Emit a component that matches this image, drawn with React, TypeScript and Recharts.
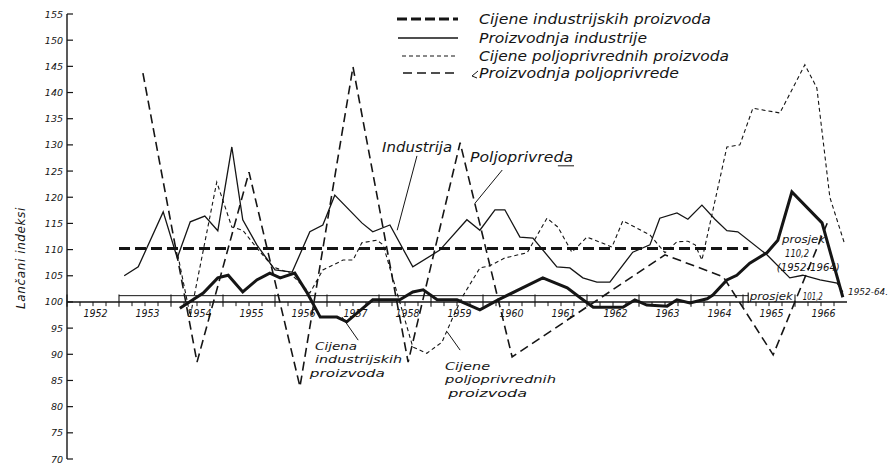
import React from "react";
import { LineChart, Line, XAxis, YAxis, ReferenceLine, ReferenceDot } from "recharts";

// tick labels
const years = [1952, 1953, 1954, 1955, 1956, 1957, 1958, 1959, 1960, 1961, 1962, 1963, 1964, 1965, 1966];
const yTicks = [70, 75, 80, 85, 90, 95, 100, 105, 110, 115, 120, 125, 130, 135, 140, 145, 150, 155];

// series, [godina, lancani indeks]
const proizvodnjaIndustrije: [number, number][] = [
  [1953.1, 105.0], [1953.37, 106.7], [1953.85, 117.2], [1954.12, 108.4], [1954.37, 115.3],
  [1954.65, 116.4], [1954.9, 113.6], [1955.17, 129.6], [1955.38, 115.7], [1955.65, 110.9],
  [1956.0, 106.1], [1956.33, 105.7], [1956.67, 113.4], [1956.92, 114.7], [1957.15, 120.4],
  [1957.67, 115.1], [1957.88, 113.4], [1958.21, 114.7], [1958.65, 106.7], [1959.17, 109.9],
  [1959.69, 115.7], [1959.94, 113.7], [1960.23, 117.6], [1960.42, 117.6], [1960.71, 112.4],
  [1960.96, 112.2], [1961.42, 106.7], [1961.67, 106.5], [1961.92, 104.6], [1962.19, 103.8],
  [1962.44, 103.8], [1962.88, 109.5], [1963.21, 110.9], [1963.4, 116.0], [1963.73, 117.0],
  [1963.94, 115.8], [1964.21, 118.5], [1964.46, 115.8], [1964.69, 113.6], [1964.9, 113.4],
  [1965.46, 109.0], [1965.9, 104.6], [1966.15, 105.1], [1966.48, 104.2], [1966.81, 103.6],
  [1966.92, 101.9],
];

const cijeneIndustrijskih: [number, number][] = [
  [1954.17, 98.8], [1954.62, 101.7], [1954.9, 104.6], [1955.1, 105.1], [1955.38, 101.9],
  [1955.65, 104.2], [1955.9, 105.5], [1956.1, 104.6], [1956.38, 105.5], [1956.62, 101.7],
  [1956.87, 97.1], [1957.19, 97.1], [1957.38, 96.2], [1957.88, 100.4], [1958.4, 100.4],
  [1958.65, 101.9], [1958.85, 102.3], [1959.12, 100.4], [1959.5, 100.4], [1959.94, 98.5],
  [1960.29, 100.4], [1961.15, 104.6], [1961.62, 102.7], [1961.87, 100.8], [1962.12, 99.0],
  [1962.69, 99.0], [1962.92, 100.4], [1963.15, 99.4], [1963.54, 99.2], [1963.73, 100.4],
  [1963.98, 99.8], [1964.31, 100.6], [1964.42, 101.3], [1964.69, 104.2], [1964.88, 105.1],
  [1965.13, 107.4], [1965.46, 109.4], [1965.67, 111.8], [1965.94, 121.0], [1966.52, 115.1],
  [1966.92, 100.9],
];

const cijenePoljoprivrednih: [number, number][] = [
  [1954.13, 109.0], [1954.37, 97.3], [1954.88, 122.9], [1955.17, 114.3], [1955.38, 113.7],
  [1955.65, 110.3], [1955.96, 106.7], [1956.29, 105.5], [1956.67, 101.7], [1956.92, 106.1],
  [1957.31, 108.0], [1957.5, 108.0], [1957.67, 111.3], [1957.96, 111.8], [1958.08, 110.9],
  [1958.65, 91.4], [1958.92, 90.2], [1959.21, 92.3], [1959.4, 96.6], [1959.6, 100.9],
  [1959.94, 106.5], [1960.13, 106.9], [1960.42, 108.4], [1960.85, 109.4], [1961.23, 116.0],
  [1961.44, 114.3], [1961.71, 109.5], [1962.0, 112.4], [1962.48, 110.5], [1962.69, 115.5],
  [1963.21, 112.8], [1963.5, 109.4], [1963.73, 111.5], [1963.94, 111.6], [1964.08, 110.9],
  [1964.21, 108.0], [1964.69, 129.6], [1964.94, 130.0], [1965.19, 137.0], [1965.71, 136.1],
  [1966.19, 145.3], [1966.42, 140.9], [1966.67, 120.0], [1966.96, 110.9],
];

const proizvodnjaPoljoprivrede: [number, number][] = [
  [1953.46, 143.7], [1954.5, 88.5], [1955.5, 124.8], [1956.48, 83.8], [1957.5, 144.9],
  [1958.56, 88.5], [1959.56, 130.4], [1960.56, 89.5], [1963.5, 109.0], [1964.62, 104.8],
  [1965.58, 89.9], [1966.63, 115.3],
];

// prosjeci 1952-1964
const prosjekIndustrija = 110.2;
const prosjekCijene = 101.2;

const rows = (pts: [number, number][]) => pts.map(([x, v]) => ({ x, v }));

const W = 890;
const H = 463;
const INK = "#151515";
const FONT = "'DejaVu Sans', 'Liberation Sans', sans-serif";

const YTick = (props: any) => {
  const { x, y, payload } = props;
  return (
    <g>
      <line x1={x} x2={x + 6} y1={y} y2={y} stroke={INK} strokeWidth={1.2} />
      <text x={x - 4} y={y + 3.5} textAnchor="end" fontSize={9.5} fontStyle="italic" fontFamily={FONT} fill={INK}>
        {payload.value}
      </text>
    </g>
  );
};

// text placed at data coordinates
const note = (key: string, x: number, y: number, text: string, size: number, len?: number, anchor = "start") => (
  <ReferenceDot
    key={key}
    x={x}
    y={y}
    r={0}
    ifOverflow="visible"
    shape={(p: any) => (
      <text
        x={p.cx}
        y={p.cy}
        fontSize={size}
        fontStyle="italic"
        fontFamily={FONT}
        fill={INK}
        textAnchor={anchor}
        textLength={len}
        lengthAdjust={len ? "spacingAndGlyphs" : undefined}
      >
        {text}
      </text>
    )}
  />
);

const seg = (key: string, x1: number, y1: number, x2: number, y2: number, w = 1) => (
  <ReferenceLine
    key={key}
    segment={[{ x: x1, y: y1 }, { x: x2, y: y2 }]}
    stroke={INK}
    strokeWidth={w}
    ifOverflow="visible"
  />
);

const legendRows = [
  { y: 19, text: "Cijene industrijskih proizvoda", x0: 397, len: 232, w: 3, dash: "10 4" },
  { y: 38, text: "Proizvodnja industrije", x0: 398, len: 168, w: 1.4, dash: undefined },
  { y: 56, text: "Cijene poljoprivrednih proizvoda", x0: 402, len: 250, w: 1.1, dash: "4 3" },
  { y: 73, text: "Proizvodnja poljoprivrede", x0: 403, len: 200, w: 1.6, dash: "9 5" },
];

export default function App() {
  const ticks: React.ReactNode[] = [];
  years.forEach((yr) => {
    ticks.push(seg(`t${yr}`, yr, 101.4, yr, 99.1, 1.1));
    [0.25, 0.5, 0.75].forEach((q) => ticks.push(seg(`t${yr}${q}`, yr + q, 100, yr + q, 99.2, 1)));
  });

  return (
    <div style={{ position: "absolute", left: 0, top: 0, width: W, height: H, background: "#fff" }}>
      <LineChart width={W} height={H} margin={{ top: 14, right: 43, bottom: 4, left: 0 }}>
        <XAxis type="number" dataKey="x" domain={[1952, 1967]} hide allowDataOverflow />
        <YAxis
          type="number"
          domain={[70, 155]}
          ticks={yTicks}
          interval={0}
          width={67}
          tickSize={0}
          tickMargin={0}
          tickLine={false}
          axisLine={{ stroke: INK, strokeWidth: 1.4 }}
          tick={<YTick />}
          allowDataOverflow
        />

        <ReferenceLine y={100} stroke={INK} strokeWidth={1.4} />
        {seg("p101", 1953, prosjekCijene, 1965.1, prosjekCijene, 1)}
        {seg("p101end", 1965.1, 99.8, 1965.1, 101.8, 1.2)}
        <ReferenceLine
          segment={[{ x: 1953, y: prosjekIndustrija }, { x: 1965.1, y: prosjekIndustrija }]}
          stroke={INK}
          strokeWidth={3}
          strokeDasharray="11 5"
        />
        {ticks}

        <Line data={rows(proizvodnjaPoljoprivrede)} dataKey="v" type="linear" stroke={INK} strokeWidth={1.6} strokeDasharray="9 5" dot={false} isAnimationActive={false} />
        <Line data={rows(cijenePoljoprivrednih)} dataKey="v" type="linear" stroke={INK} strokeWidth={1.1} strokeDasharray="4 3" dot={false} isAnimationActive={false} />
        <Line data={rows(proizvodnjaIndustrije)} dataKey="v" type="linear" stroke={INK} strokeWidth={1.3} dot={false} isAnimationActive={false} />
        <Line data={rows(cijeneIndustrijskih)} dataKey="v" type="linear" stroke={INK} strokeWidth={3} dot={false} isAnimationActive={false} />

        {years.map((yr) => note(`y${yr}`, yr + 0.55, 97.1, String(yr), 10, 24, "middle"))}

        {note("ind", 1958.06, 128.6, "Industrija", 14, 70)}
        {seg("indp", 1958.73, 127.9, 1958.35, 113.7)}
        {note("pol", 1959.75, 126.7, "Poljoprivreda", 14, 103)}
        {seg("polu", 1961.44, 126.0, 1961.75, 126.0)}
        {seg("polp", 1960.37, 125.2, 1959.85, 118.9)}

        {note("ci1", 1956.77, 90.8, "Cijena", 11, 42)}
        {note("ci2", 1956.77, 88.3, "industrijskih", 11, 87)}
        {note("ci3", 1956.67, 85.7, "proizvoda", 11, 75)}
        {seg("cip", 1957.29, 97.1, 1957.6, 92.7)}

        {note("cp1", 1959.27, 87.0, "Cijene", 11, 45)}
        {note("cp2", 1959.27, 84.5, "poljoprivrednih", 11, 111)}
        {note("cp3", 1959.33, 81.8, "proizvoda", 11, 79)}
        {seg("cpp", 1959.31, 94.3, 1959.56, 90.8)}

        {note("pr1", 1965.75, 111.3, "prosjek", 11, 43)}
        {note("pr2", 1965.81, 108.6, "110,2", 10.5, 24)}
        {note("pr3", 1965.65, 105.9, "(1952-1964)", 10, 63)}
        {note("pr4", 1965.13, 100.4, "prosjek", 11, 43)}
        {note("pr5", 1966.15, 100.4, "101,2", 10, 20)}
        {note("pr6", 1967.02, 101.3, "1952-64.", 9, 40)}
      </LineChart>

      <svg width={W} height={90} style={{ position: "absolute", left: 0, top: 0, pointerEvents: "none" }}>
        {legendRows.map((r) => (
          <g key={r.text}>
            <line x1={r.x0} x2={458} y1={r.y} y2={r.y} stroke={INK} strokeWidth={r.w} strokeDasharray={r.dash} />
            <text
              x={479}
              y={r.y + 5}
              fontSize={14}
              fontStyle="italic"
              fontFamily={FONT}
              fill={INK}
              textLength={r.len}
              lengthAdjust="spacingAndGlyphs"
            >
              {r.text}
            </text>
          </g>
        ))}
        <path d="M478 71 L472 76 L477 78" fill="none" stroke={INK} strokeWidth={1} />
      </svg>

      <div
        style={{
          position: "absolute",
          left: 21,
          top: 258,
          transform: "translate(-50%, -50%) rotate(-90deg)",
          whiteSpace: "nowrap",
          fontFamily: FONT,
          fontStyle: "italic",
          fontSize: 12,
          letterSpacing: 0.6,
          color: INK,
        }}
      >
        Lančani indeksi
      </div>
    </div>
  );
}
